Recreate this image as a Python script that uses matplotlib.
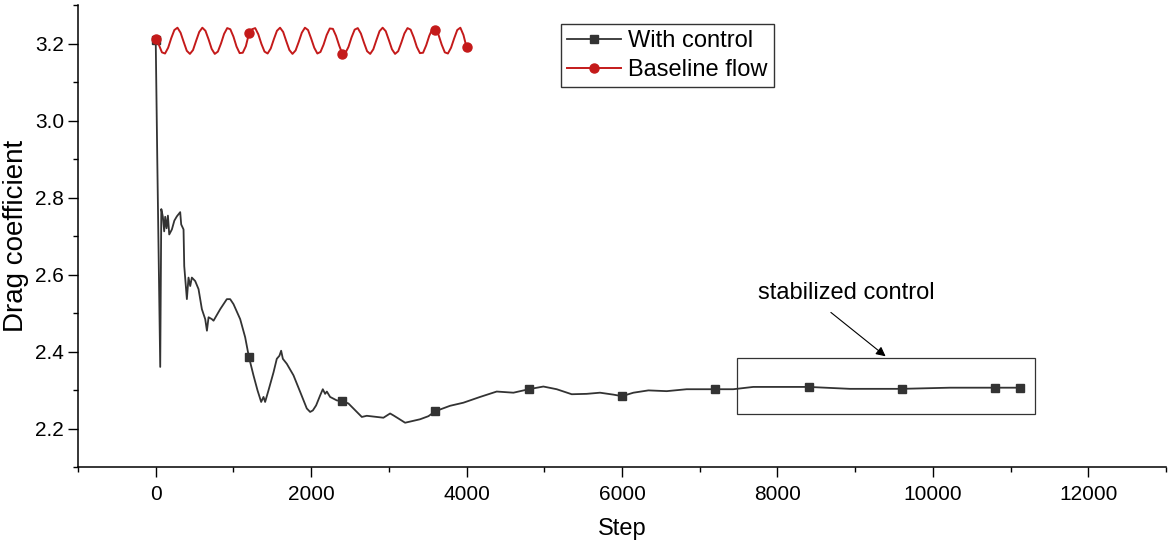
import matplotlib
matplotlib.use('Agg')
import matplotlib.pyplot as plt
from matplotlib.patches import Rectangle
from matplotlib.ticker import MultipleLocator

plt.rcParams['font.family'] = ['Liberation Sans', 'DejaVu Sans']

# drag coefficient with control
ctrl_step = [0, 20, 58, 72, 92, 109, 122, 140, 157, 174, 208, 240, 272, 315, 328, 358, 367,
             401, 422, 444, 465, 508, 551, 594, 637, 659, 680, 723, 744, 830, 915, 958, 1001,
             1087, 1151, 1200, 1258, 1310, 1357, 1387, 1408, 1451, 1516, 1558, 1592, 1614,
             1636, 1687, 1773, 1859, 1944, 1987, 2022, 2064, 2116, 2150, 2180, 2202, 2244,
             2330, 2400, 2480, 2544, 2652, 2716, 2845, 2930, 3016, 3059, 3123, 3209, 3295,
             3402, 3509, 3600, 3788, 3959, 4174, 4388, 4603, 4800, 4988, 5160, 5353, 5546,
             5717, 5889, 6000, 6147, 6340, 6575, 6832, 7200, 7432, 7689, 8400, 8933, 9600,
             10220, 10800, 11120]
ctrl_cd = [3.21, 2.90, 2.36, 2.77, 2.75, 2.712, 2.75, 2.72, 2.753, 2.704, 2.717, 2.74, 2.751,
           2.762, 2.73, 2.717, 2.622, 2.536, 2.592, 2.570, 2.592, 2.583, 2.562, 2.51, 2.484,
           2.454, 2.489, 2.484, 2.48, 2.51, 2.536, 2.536, 2.523, 2.484, 2.437, 2.385, 2.338,
           2.299, 2.269, 2.282, 2.269, 2.299, 2.346, 2.381, 2.389, 2.402, 2.381, 2.368, 2.338,
           2.295, 2.252, 2.243, 2.247, 2.260, 2.286, 2.302, 2.290, 2.296, 2.282, 2.273, 2.271,
           2.265, 2.252, 2.230, 2.233, 2.230, 2.228, 2.239, 2.234, 2.226, 2.215, 2.219, 2.224,
           2.232, 2.245, 2.259, 2.267, 2.282, 2.296, 2.293, 2.302, 2.309, 2.302, 2.289, 2.290,
           2.293, 2.288, 2.284, 2.293, 2.299, 2.297, 2.302, 2.302, 2.302, 2.308, 2.308, 2.303,
           2.303, 2.306, 2.306, 2.306]

# baseline flow, sampled every 40 steps
base_step = list(range(0, 4001, 40))
base_cd = [3.212, 3.197, 3.177, 3.174, 3.189, 3.214, 3.235, 3.241, 3.228, 3.204,
           3.181, 3.173, 3.183, 3.207, 3.230, 3.241, 3.233, 3.211, 3.186, 3.173,
           3.179, 3.200, 3.225, 3.240, 3.237, 3.218, 3.192, 3.175, 3.176, 3.193,
           3.226, 3.237, 3.240, 3.224, 3.199, 3.179, 3.174, 3.187, 3.211, 3.233,
           3.241, 3.230, 3.206, 3.183, 3.173, 3.182, 3.204, 3.228, 3.241, 3.235,
           3.213, 3.189, 3.174, 3.178, 3.197, 3.222, 3.239, 3.238, 3.220, 3.195,
           3.174, 3.175, 3.191, 3.216, 3.236, 3.240, 3.226, 3.202, 3.180, 3.173,
           3.185, 3.209, 3.232, 3.241, 3.232, 3.209, 3.185, 3.173, 3.180, 3.202,
           3.226, 3.240, 3.236, 3.216, 3.191, 3.175, 3.176, 3.195, 3.220, 3.238,
           3.236, 3.222, 3.197, 3.177, 3.174, 3.189, 3.213, 3.235, 3.241, 3.222,
           3.190]

ctrl_marks = [i for i, s in enumerate(ctrl_step) if s % 1200 == 0] + [len(ctrl_step) - 1]
base_marks = [i for i, s in enumerate(base_step) if s % 1200 == 0] + [len(base_step) - 1]

fig = plt.figure(figsize=(11.69, 5.46), dpi=100)
ax = fig.add_axes([78 / 1169, 1 - 467 / 546, (1166 - 78) / 1169, 462 / 546])

ax.plot(ctrl_step, ctrl_cd, color='#333333', lw=1.3, marker='s', ms=6,
        markevery=ctrl_marks, label='With control')
ax.plot(base_step, base_cd, color='#c41a1a', lw=1.4, marker='o', ms=6.5,
        markevery=base_marks, label='Baseline flow')

ax.add_patch(Rectangle((7480, 2.237), 3830, 0.146, fill=False, edgecolor='#333333', lw=0.9))
ax.annotate('', xy=(9420, 2.383), xytext=(8660, 2.506),
            arrowprops=dict(arrowstyle='-|>', color='black', lw=0.8, mutation_scale=14))
ax.text(8890, 2.536, 'stabilized control', ha='center', va='baseline', fontsize=17)

ax.set_xlim(-1000, 13000)
ax.set_ylim(2.1, 3.3)
ax.xaxis.set_major_locator(MultipleLocator(2000))
ax.xaxis.set_minor_locator(MultipleLocator(1000))
ax.yaxis.set_major_locator(MultipleLocator(0.2))
ax.yaxis.set_minor_locator(MultipleLocator(0.1))
ax.yaxis.set_major_formatter(plt.FormatStrFormatter('%.1f'))
ax.tick_params(which='major', length=7, width=1, labelsize=15, direction='out')
ax.tick_params(which='minor', length=3.5, width=1, direction='out')
ax.tick_params(axis='x', pad=6)
ax.tick_params(axis='y', pad=3)

for side in ['top', 'right']:
    ax.spines[side].set_visible(False)
for side in ['left', 'bottom']:
    ax.spines[side].set_linewidth(1.1)

ax.set_xlabel('Step', fontsize=17, labelpad=10)
ax.set_ylabel('Drag coefficient', fontsize=20, labelpad=4)

leg = ax.legend(loc='upper left', bbox_to_anchor=(0.444, 0.959), borderaxespad=0,
                fontsize=17, fancybox=False, framealpha=1, edgecolor='#333333',
                handlelength=2.3, handletextpad=0.3, labelspacing=0.3, borderpad=0.25)
leg.get_frame().set_linewidth(1)

fig.savefig('out.png', dpi=100)
